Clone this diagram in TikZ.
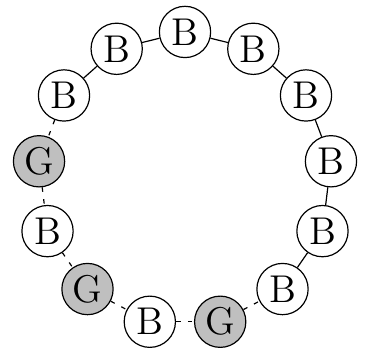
\documentclass[tikz,border=0pt]{standalone}
\begin{document}
\begin{tikzpicture}
        \tikzstyle{vertex}=[circle, draw, fill=white, minimum size=0.605cm, inner sep=0pt, font=\fontsize{13}{15}\selectfont]
        \tikzstyle{green}=[vertex, fill=gray!50]
        \tikzstyle{gedge}=[dash pattern=on 1.5pt off 2.5pt]
        \useasboundingbox (-2.183,-1.994) rectangle (2.171,2.112);

        \node[vertex] (v0) at (90:1.735) {B};
        \node[vertex] (v1) at (117.69:1.735) {B};
        \node[vertex] (v2) at (145.38:1.735) {B};
        \node[green] (v3) at (173.08:1.735) {G};
        \node[vertex] (v4) at (200.77:1.735) {B};
        \node[green] (v5) at (228.46:1.735) {G};
        \node[vertex] (v6) at (256.15:1.735) {B};
        \node[green] (v7) at (283.85:1.735) {G};
        \node[vertex] (v8) at (311.54:1.735) {B};
        \node[vertex] (v9) at (339.23:1.735) {B};
        \node[vertex] (v10) at (6.92:1.735) {B};
        \node[vertex] (v11) at (34.62:1.735) {B};
        \node[vertex] (v12) at (62.31:1.735) {B};

        \draw (v0) -- (v1);
        \draw (v1) -- (v2);
        \draw[gedge] (v2) -- (v3);
        \draw[gedge] (v3) -- (v4);
        \draw[gedge] (v4) -- (v5);
        \draw[gedge] (v5) -- (v6);
        \draw[gedge] (v6) -- (v7);
        \draw[gedge] (v7) -- (v8);
        \draw (v8) -- (v9);
        \draw (v9) -- (v10);
        \draw (v10) -- (v11);
        \draw (v11) -- (v12);
        \draw (v12) -- (v0);
    \end{tikzpicture}
\end{document}
